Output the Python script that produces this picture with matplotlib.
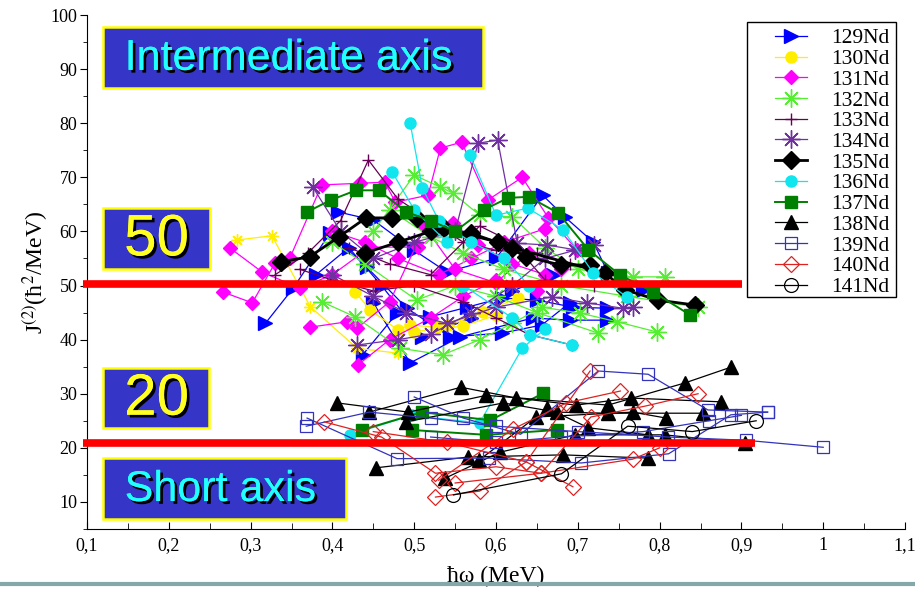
import matplotlib
matplotlib.use('Agg')
import matplotlib.pyplot as plt
import matplotlib.patheffects as pe
from matplotlib.patches import Rectangle
from matplotlib.ticker import MultipleLocator, FuncFormatter

# J(2) vs hbar*omega, one list of bands per isotope, each band a list of (hw, J2)
nd129 = [
    [(0.318, 43.0), (0.352, 49.5), (0.397, 59.7), (0.442, 53.4), (0.491, 45.8), (0.544, 40.5), (0.607, 41.2), (0.656, 42.7), (0.690, 46.8)],
    [(0.407, 63.6), (0.450, 62.1), (0.500, 56.5), (0.540, 52.5), (0.600, 55.0), (0.657, 66.7), (0.684, 62.7), (0.719, 58.0), (0.737, 52.3), (0.780, 49.2)],
    [(0.437, 37.2), (0.479, 44.9), (0.519, 44.2), (0.565, 46.0), (0.607, 47.7), (0.650, 47.3), (0.694, 46.0), (0.736, 45.8)],
    [(0.450, 46.8), (0.495, 35.7), (0.556, 40.5), (0.645, 44.0), (0.690, 43.6), (0.736, 43.6)],
    [(0.380, 52.0), (0.420, 57.0), (0.460, 50.0), (0.510, 40.5), (0.570, 44.0), (0.620, 49.0), (0.670, 52.0)],
]
nd130 = [
    [(0.428, 48.8), (0.446, 45.5), (0.480, 41.8), (0.495, 42.7), (0.528, 42.3), (0.541, 42.7), (0.584, 45.1), (0.627, 47.7)],
    [(0.500, 41.5), (0.560, 42.5), (0.600, 44.5)],
]
nd130_tail = [(0.283, 58.4), (0.326, 59.2), (0.373, 46.1), (0.430, 38.4), (0.480, 37.5)]
nd131 = [
    [(0.266, 48.8), (0.302, 46.8), (0.330, 54.2), (0.348, 55.1), (0.387, 68.6), (0.434, 68.9), (0.464, 69.1), (0.477, 65.4), (0.517, 66.7),
     (0.532, 75.4), (0.558, 76.5), (0.590, 65.8), (0.632, 70.0), (0.664, 62.5), (0.699, 56.6)],
    [(0.275, 56.9), (0.314, 52.5), (0.360, 49.5), (0.400, 52.0), (0.446, 57.1), (0.505, 57.1), (0.547, 61.6), (0.578, 57.5), (0.620, 54.0), (0.660, 52.0)],
    [(0.373, 42.3), (0.418, 43.3), (0.430, 42.1), (0.470, 47.0), (0.513, 60.8), (0.550, 53.0), (0.600, 50.5), (0.640, 56.0), (0.680, 53.0)],
    [(0.431, 35.3), (0.470, 40.0), (0.520, 44.0), (0.560, 48.0), (0.600, 51.0), (0.650, 49.0)],
    [(0.400, 60.0), (0.440, 58.0), (0.480, 55.0), (0.530, 52.0), (0.570, 55.0), (0.610, 58.0), (0.660, 60.5)],
]
nd132 = [
    [(0.387, 47.0), (0.428, 44.2), (0.483, 38.4), (0.535, 37.2), (0.580, 40.0), (0.620, 43.0), (0.656, 46.0), (0.703, 44.9), (0.748, 43.3), (0.797, 41.4)],
    [(0.450, 60.0), (0.500, 70.4), (0.532, 68.2), (0.547, 67.1), (0.580, 63.0), (0.620, 62.7), (0.660, 57.0), (0.700, 53.0), (0.767, 51.6), (0.807, 51.6)],
    [(0.400, 58.0), (0.440, 54.0), (0.503, 47.3), (0.550, 50.0), (0.600, 48.0), (0.650, 45.0), (0.725, 41.2)],
    [(0.470, 64.0), (0.520, 59.0), (0.560, 56.0), (0.610, 53.0), (0.680, 50.0), (0.760, 48.0), (0.847, 46.0)],
]
nd133 = [
    [(0.330, 52.0), (0.370, 56.0), (0.410, 62.0), (0.444, 73.2), (0.480, 66.0), (0.520, 62.0), (0.560, 58.0), (0.600, 56.5), (0.650, 56.0), (0.690, 54.0)],
    [(0.360, 53.0), (0.400, 51.0), (0.450, 49.0), (0.500, 50.0), (0.560, 47.0), (0.600, 44.0), (0.641, 40.9), (0.693, 39.0)],
    [(0.420, 57.0), (0.470, 54.0), (0.520, 52.0), (0.580, 61.0), (0.620, 58.0), (0.660, 51.0), (0.720, 50.0)],
]
nd134 = [
    [(0.376, 68.2), (0.410, 60.0), (0.450, 55.0), (0.500, 58.0), (0.550, 60.0), (0.578, 76.3), (0.602, 76.9), (0.626, 57.8), (0.662, 57.5), (0.697, 56.6)],
    [(0.400, 52.0), (0.450, 48.0), (0.490, 45.0), (0.540, 43.0), (0.600, 46.0), (0.668, 47.9), (0.711, 46.8), (0.755, 45.8), (0.767, 46.0)],
    [(0.430, 39.0), (0.480, 40.0), (0.520, 41.0), (0.570, 45.0), (0.620, 50.0), (0.660, 55.0), (0.720, 57.5)],
]
nd135 = [
    [(0.337, 54.4), (0.372, 55.3), (0.408, 59.0), (0.441, 62.5), (0.473, 62.5), (0.503, 62.5), (0.536, 60.6), (0.569, 59.3), (0.603, 58.0),
     (0.637, 55.3), (0.679, 53.8), (0.715, 53.8)],
    [(0.440, 56.0), (0.480, 58.0), (0.520, 60.0), (0.569, 59.7), (0.620, 57.0), (0.733, 52.3), (0.758, 49.2), (0.798, 47.3), (0.843, 46.4)],
]
nd136 = [
    [(0.421, 22.4), (0.497, 26.0), (0.580, 24.6), (0.632, 38.4), (0.660, 42.0)],
    [(0.495, 80.0), (0.510, 68.0), (0.530, 62.0), (0.570, 58.0), (0.610, 55.0), (0.640, 50.0)],
    [(0.473, 71.0), (0.500, 64.0), (0.540, 58.0)],
    [(0.568, 74.2), (0.600, 63.0), (0.639, 64.3), (0.682, 60.3), (0.719, 52.3), (0.760, 47.9)],
    [(0.560, 50.0), (0.620, 44.0), (0.641, 40.9), (0.693, 39.0)],
]
nd137 = [
    [(0.369, 63.6), (0.398, 65.8), (0.429, 67.6), (0.457, 67.6), (0.490, 63.6), (0.520, 62.0), (0.550, 60.0), (0.585, 64.0), (0.615, 66.2),
     (0.640, 66.4), (0.676, 63.4), (0.713, 56.6), (0.752, 51.9), (0.792, 48.8), (0.837, 44.6)],
    [(0.436, 23.3), (0.509, 26.6), (0.593, 25.1), (0.658, 30.1)],
    [(0.497, 23.3), (0.588, 22.4), (0.674, 23.3)],
]
nd138 = [
    [(0.406, 28.3), (0.493, 26.6), (0.588, 29.7), (0.737, 27.9), (0.831, 32.0), (0.887, 34.9)],
    [(0.445, 26.6), (0.557, 31.2), (0.625, 29.2), (0.698, 27.9), (0.765, 29.2), (0.875, 28.5)],
    [(0.490, 24.8), (0.609, 28.3), (0.674, 26.6), (0.737, 26.4), (0.853, 26.4)],
    [(0.453, 16.3), (0.566, 18.3), (0.682, 18.7), (0.786, 18.1)],
    [(0.538, 14.4), (0.605, 19.2), (0.697, 22.4), (0.806, 22.4), (0.904, 20.9)],
    [(0.579, 17.7), (0.649, 25.7), (0.767, 26.6), (0.808, 25.5)],
    [(0.662, 27.4), (0.713, 23.7), (0.786, 22.4)],
]
nd139 = [
    [(0.368, 24.0), (0.445, 26.6), (0.520, 25.5), (0.600, 24.0), (0.700, 23.0), (0.810, 22.0), (0.905, 21.4), (1.000, 20.1)],
    [(0.369, 25.5), (0.479, 18.0), (0.591, 18.1), (0.704, 17.2), (0.811, 18.9), (0.887, 26.1), (0.932, 26.6)],
    [(0.500, 29.4), (0.560, 25.5), (0.630, 22.5), (0.725, 34.2), (0.786, 33.6), (0.859, 27.0), (0.932, 26.6)],
    [(0.520, 22.0), (0.600, 21.0), (0.680, 22.0), (0.780, 23.0), (0.860, 25.0), (0.900, 26.0)],
]
nd140 = [
    [(0.390, 24.8), (0.460, 22.0), (0.526, 15.3), (0.600, 16.5), (0.655, 15.3), (0.716, 25.7), (0.782, 27.7), (0.847, 30.0)],
    [(0.526, 10.9), (0.580, 12.0), (0.637, 17.4), (0.715, 34.2)],
    [(0.530, 14.0), (0.621, 23.5), (0.686, 28.3), (0.752, 30.5)],
    [(0.550, 13.5), (0.655, 15.3), (0.767, 17.9), (0.800, 20.0)],
    [(0.450, 23.0), (0.540, 21.0), (0.637, 17.4), (0.694, 12.8)],
]
nd141 = [
    [(0.548, 11.3), (0.680, 15.2), (0.761, 24.0), (0.840, 23.0), (0.918, 25.0)],
]

labels = ['129Nd', '130Nd', '131Nd', '132Nd', '133Nd', '134Nd', '135Nd',
          '136Nd', '137Nd', '138Nd', '139Nd', '140Nd', '141Nd']
series = [nd129, nd130, nd131, nd132, nd133, nd134, nd135,
          nd136, nd137, nd138, nd139, nd140, nd141]

# style per isotope: color, marker, markersize, filled, linewidth
styles = [
    ('#0000ff', '>', 10, True, 0.9),
    ('#ffee00', 'o', 8, True, 0.9),
    ('#ff00ff', 'D', 7, True, 0.9),
    ('#55ee33', (8, 2, 0), 13, True, 0.9),
    ('#660055', '+', 9, True, 0.9),
    ('#7030a0', (8, 2, 0), 13, True, 0.9),
    ('black', 'D', 9, True, 2.0),
    ('#11e5ee', 'o', 8, True, 0.9),
    ('#008000', 's', 9, True, 1.4),
    ('black', '^', 10, True, 0.9),
    ('#3333bb', 's', 9, False, 0.9),
    ('#dd2222', 'D', 8, False, 0.9),
    ('black', 'o', 10, False, 0.9),
]

plt.rcParams['font.family'] = ['Liberation Serif', 'DejaVu Serif']
plt.rcParams['mathtext.fontset'] = 'stix'

fig = plt.figure(figsize=(9.15, 5.89), dpi=100)
ax = fig.add_axes([0.0951, 0.1019, 0.8940, 0.8726])

handles = []
for lab, bands, (col, mk, ms, filled, lw) in zip(labels, series, styles):
    mfc = col if filled else 'none'
    mew = 1.0 if filled else 0.9
    for i, band in enumerate(bands):
        xs = [p[0] for p in band]
        ys = [p[1] for p in band]
        h, = ax.plot(xs, ys, color=col, lw=lw, marker=mk, ms=ms, mfc=mfc,
                     mec=col, mew=mew, label=lab if i == 0 else None)
        if i == 0:
            handles.append(h)
    if lab == '130Nd':
        ax.plot([p[0] for p in nd130_tail], [p[1] for p in nd130_tail],
                color=col, lw=0.9, marker=(8, 2, 0), ms=9, mec=col)

# red reference lines
ax.plot([0.095, 0.901], [50.3, 50.3], color='#ff0000', lw=5.5, zorder=20, clip_on=False, solid_capstyle='butt')
ax.plot([0.095, 0.917], [20.9, 20.9], color='#ff0000', lw=5.5, zorder=20, clip_on=False, solid_capstyle='butt')

# annotation boxes
boxes = [
    (0.1196, 86.6, 0.4644, 11.2, 'Intermediate axis', '#22ffff', 0.146, 31),
    (0.1196, 53.0, 0.1304, 11.3, '50', '#ffff22', 0.185, 42),
    (0.1196, 23.7, 0.1294, 11.0, '20', '#ffff22', 0.185, 42),
    (0.1196, 6.9, 0.2974, 11.2, 'Short axis', '#22ffff', 0.146, 31),
]
for x0, y0, w, h, txt, tc, tx, fs in boxes:
    ax.add_patch(Rectangle((x0, y0), w, h, facecolor='#3535c8', edgecolor='#ffff00',
                           lw=1.8, zorder=30))
    ha = 'center' if txt in ('50', '20') else 'left'
    ax.text(tx, y0 + h / 2 - 0.3, txt, color=tc, fontsize=fs, family='Liberation Sans',
            ha=ha, va='center', zorder=31,
            path_effects=[pe.withSimplePatchShadow(offset=(2, -2), shadow_rgbFace='black', alpha=1.0),
                          pe.Normal()])

ax.set_xlim(0.1, 1.1)
ax.set_ylim(5, 100)
ax.xaxis.set_major_locator(MultipleLocator(0.1))
ax.xaxis.set_minor_locator(MultipleLocator(0.05))
ax.yaxis.set_major_locator(MultipleLocator(10))
ax.yaxis.set_minor_locator(MultipleLocator(5))
ax.xaxis.set_major_formatter(FuncFormatter(lambda v, p: f'{v:.1f}'.rstrip('0').rstrip('.').replace('.', ',')))
ax.yaxis.set_major_formatter(FuncFormatter(lambda v, p: f'{v:.0f}'))
ax.set_yticks([10, 20, 30, 40, 50, 60, 70, 80, 90, 100])
ax.tick_params(axis='x', direction='in', length=5, labelsize=13, pad=6)
ax.tick_params(axis='x', which='minor', direction='in', length=4)
ax.tick_params(axis='y', direction='out', length=5, labelsize=13, pad=2)
ax.tick_params(axis='y', which='minor', direction='out', length=3)
for s in ['top', 'right']:
    ax.spines[s].set_visible(False)

ax.set_xlabel('ħω (MeV)', fontsize=17, labelpad=8)
ax.set_ylabel('J$^{(2)}$(ħ$^{2}$/MeV)', fontsize=17, labelpad=0)

# legend: drawn without its own frame, frame box drawn separately
leg = ax.legend(handles=handles, loc='upper right', bbox_to_anchor=(0.981, 0.974),
                borderaxespad=0, fontsize=15.5, frameon=False, labelspacing=0.03,
                handlelength=1.5, handletextpad=1.1, borderpad=0.0)
leg.set_zorder(40)
ax.add_patch(Rectangle((0.807, 0.4514), 0.182, 0.535, transform=ax.transAxes,
                       facecolor='white', edgecolor='black', lw=1.0, zorder=39))

# slide border line at the bottom
fig.add_artist(plt.Line2D([0, 1], [0.008, 0.008], color='#86a7aa', lw=3))

fig.savefig('out.png', dpi=100)
